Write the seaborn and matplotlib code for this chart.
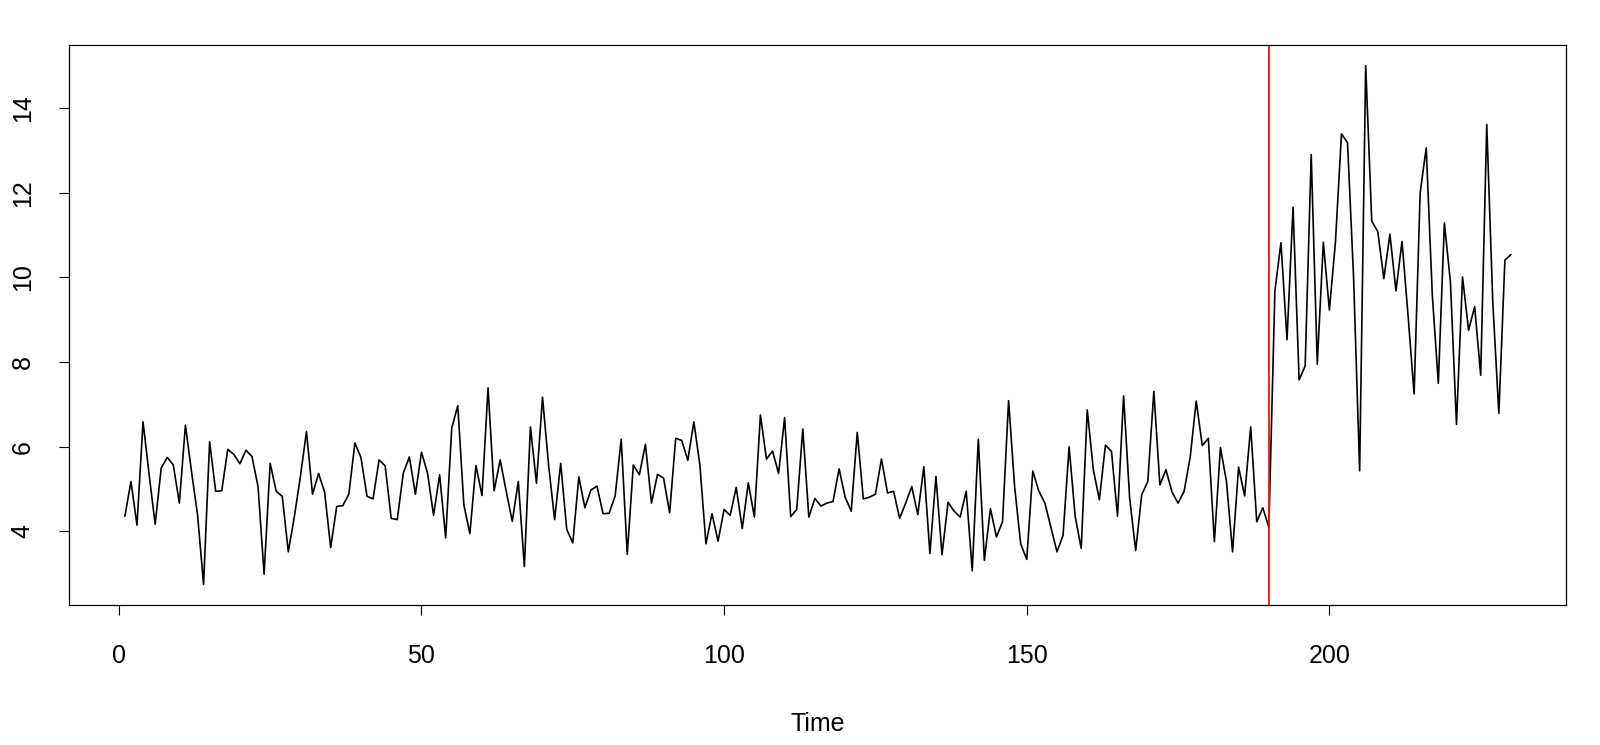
import numpy as np
import pandas as pd
import seaborn as sns
import matplotlib.pyplot as plt

# series before the change point (t = 1..190)
before = [4.36, 5.18, 4.15, 6.59, 5.35, 4.17, 5.50, 5.75, 5.57, 4.67,
          6.51, 5.42, 4.40, 2.75, 6.12, 4.95, 4.96, 5.94, 5.82, 5.60,
          5.92, 5.77, 5.06, 2.99, 5.61, 4.95, 4.83, 3.52, 4.35, 5.30,
          6.36, 4.88, 5.37, 4.93, 3.62, 4.59, 4.61, 4.88, 6.09, 5.75,
          4.83, 4.77, 5.69, 5.55, 4.31, 4.28, 5.38, 5.76, 4.88, 5.87,
          5.38, 4.38, 5.34, 3.85, 6.44, 6.97, 4.63, 3.95, 5.56, 4.85,
          7.39, 4.96, 5.69, 4.95, 4.24, 5.18, 3.17, 6.47, 5.14, 7.17,
          5.57, 4.28, 5.61, 4.05, 3.73, 5.29, 4.56, 4.98, 5.07, 4.42,
          4.43, 4.84, 6.18, 3.46, 5.57, 5.34, 6.06, 4.67, 5.35, 5.26,
          4.44, 6.20, 6.15, 5.68, 6.59, 5.57, 3.71, 4.42, 3.77, 4.52,
          4.38, 5.04, 4.07, 5.15, 4.34, 6.75, 5.71, 5.90, 5.37, 6.69,
          4.35, 4.52, 6.42, 4.34, 4.78, 4.60, 4.67, 4.71, 5.48, 4.81,
          4.48, 6.34, 4.77, 4.81, 4.88, 5.71, 4.91, 4.95, 4.31, 4.67,
          5.06, 4.40, 5.53, 3.48, 5.30, 3.45, 4.69, 4.48, 4.34, 4.95,
          3.07, 6.18, 3.32, 4.54, 3.87, 4.23, 7.09, 5.05, 3.71, 3.34,
          5.43, 4.95, 4.67, 4.09, 3.52, 3.91, 6.00, 4.36, 3.60, 6.87,
          5.46, 4.75, 6.04, 5.89, 4.36, 7.20, 4.79, 3.55, 4.87, 5.18,
          7.31, 5.10, 5.46, 4.93, 4.67, 4.95, 5.75, 7.08, 6.03, 6.20,
          3.76, 5.98, 5.18, 3.52, 5.52, 4.84, 6.47, 4.23, 4.56, 4.10]

# series after the change point (t = 191..230)
after = [9.68, 10.82, 8.53, 11.66, 7.58, 7.91, 12.90, 7.95, 10.83, 9.23,
         10.83, 13.39, 13.18, 10.00, 5.43, 15.00, 11.33, 11.08, 9.97, 11.02,
         9.68, 10.85, 9.10, 7.25, 12.00, 13.06, 9.60, 7.50, 11.29, 9.89,
         6.53, 10.01, 8.75, 9.31, 7.69, 13.61, 9.40, 6.79, 10.41, 10.54]

change_point = 190
x_ticks = [0, 50, 100, 150, 200]
y_ticks = [4, 6, 8, 10, 12, 14]

values = before + after
df = pd.DataFrame({"Time": np.arange(1, len(values) + 1), "value": values})

sns.set_style("ticks")
plt.rcParams['font.family'] = ['Liberation Sans', 'DejaVu Sans']

fig = plt.figure(figsize=(16, 7.45), dpi=100)
ax = fig.add_axes([0.0434, 0.1877, 0.9356, 0.752])

sns.lineplot(x="Time", y="value", data=df, color="black", linewidth=1.2, ax=ax)
ax.axvline(change_point, color="#e8141c", linewidth=1.3)

n = len(values)
pad_x = 0.04 * (n - 1)
ax.set_xlim(1 - pad_x, n + pad_x)
ymin, ymax = min(values), max(values)
pad_y = 0.04 * (ymax - ymin)
ax.set_ylim(ymin - pad_y, ymax + pad_y)

ax.set_xticks(x_ticks)
ax.set_yticks(y_ticks)
ax.set_yticklabels([str(t) for t in y_ticks], rotation=90, va="center")
ax.tick_params(direction="out", length=7, width=0.8, labelsize=18, colors="black")
ax.tick_params(axis="x", pad=21)
ax.tick_params(axis="y", pad=18)
ax.set_xlabel("Time", fontsize=18, labelpad=32, color="black")
ax.set_ylabel("")
for s in ax.spines.values():
    s.set_visible(True)
    s.set_linewidth(0.9)
    s.set_color("black")

fig.savefig("out.png", dpi=100)
